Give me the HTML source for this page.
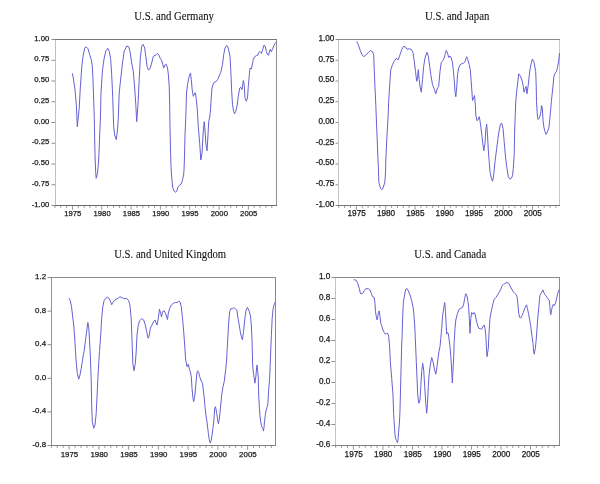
<!DOCTYPE html><html><head><meta charset="utf-8"><title>Correlations</title><style>html,body{margin:0;padding:0;background:#fff;width:600px;height:484px;overflow:hidden}svg{display:block;}.t{font-family:"Liberation Serif","Times New Roman",serif;font-size:11.8px;fill:#111;stroke:#111;stroke-width:0.1px;}.n{font-family:"Liberation Sans",Arial,sans-serif;font-size:7.9px;fill:#1a1a1a;stroke:#1a1a1a;stroke-width:0.25px;}</style></head><body>
<svg width="600" height="484" viewBox="0 0 600 484">
<rect width="600" height="484" fill="#fff"/>
<text class="t" transform="translate(134.30,19.90) scale(0.907,1)" text-anchor="start">U.S. and Germany</text>
<text class="n" transform="translate(49.30,40.50)" text-anchor="end" style="font-size:7.7px">1.00</text>
<text class="n" transform="translate(49.30,61.25)" text-anchor="end" style="font-size:7.7px">0.75</text>
<text class="n" transform="translate(49.30,82.00)" text-anchor="end" style="font-size:7.7px">0.50</text>
<text class="n" transform="translate(49.30,102.75)" text-anchor="end" style="font-size:7.7px">0.25</text>
<text class="n" transform="translate(49.30,123.50)" text-anchor="end" style="font-size:7.7px">0.00</text>
<text class="n" transform="translate(49.30,144.25)" text-anchor="end" style="font-size:7.7px">-0.25</text>
<text class="n" transform="translate(49.30,165.00)" text-anchor="end" style="font-size:7.7px">-0.50</text>
<text class="n" transform="translate(49.30,185.75)" text-anchor="end" style="font-size:7.7px">-0.75</text>
<text class="n" transform="translate(49.30,206.50)" text-anchor="end" style="font-size:7.7px">-1.00</text>
<text class="n" transform="translate(72.79,216.00)" text-anchor="middle" style="font-size:7.7px">1975</text>
<text class="n" transform="translate(102.10,216.00)" text-anchor="middle" style="font-size:7.7px">1980</text>
<text class="n" transform="translate(131.41,216.00)" text-anchor="middle" style="font-size:7.7px">1985</text>
<text class="n" transform="translate(160.72,216.00)" text-anchor="middle" style="font-size:7.7px">1990</text>
<text class="n" transform="translate(190.04,216.00)" text-anchor="middle" style="font-size:7.7px">1995</text>
<text class="n" transform="translate(219.35,216.00)" text-anchor="middle" style="font-size:7.7px">2000</text>
<text class="n" transform="translate(248.66,216.00)" text-anchor="middle" style="font-size:7.7px">2005</text>
<line x1="51.50" y1="39.50" x2="55.50" y2="39.50" stroke="#8c8c8c" stroke-width="1"/>
<line x1="51.50" y1="60.25" x2="55.50" y2="60.25" stroke="#8c8c8c" stroke-width="1"/>
<line x1="51.50" y1="81.00" x2="55.50" y2="81.00" stroke="#8c8c8c" stroke-width="1"/>
<line x1="51.50" y1="101.75" x2="55.50" y2="101.75" stroke="#8c8c8c" stroke-width="1"/>
<line x1="51.50" y1="122.50" x2="55.50" y2="122.50" stroke="#8c8c8c" stroke-width="1"/>
<line x1="51.50" y1="143.25" x2="55.50" y2="143.25" stroke="#8c8c8c" stroke-width="1"/>
<line x1="51.50" y1="164.00" x2="55.50" y2="164.00" stroke="#8c8c8c" stroke-width="1"/>
<line x1="51.50" y1="184.75" x2="55.50" y2="184.75" stroke="#8c8c8c" stroke-width="1"/>
<line x1="51.50" y1="205.50" x2="55.50" y2="205.50" stroke="#8c8c8c" stroke-width="1"/>
<line x1="54.90" y1="205.5" x2="54.90" y2="207.9" stroke="#8c8c8c" stroke-width="0.9"/>
<line x1="60.76" y1="205.5" x2="60.76" y2="207.9" stroke="#8c8c8c" stroke-width="0.9"/>
<line x1="66.62" y1="205.5" x2="66.62" y2="207.9" stroke="#8c8c8c" stroke-width="0.9"/>
<line x1="72.49" y1="205.5" x2="72.49" y2="209.7" stroke="#8c8c8c" stroke-width="0.9"/>
<line x1="78.35" y1="205.5" x2="78.35" y2="207.9" stroke="#8c8c8c" stroke-width="0.9"/>
<line x1="84.21" y1="205.5" x2="84.21" y2="207.9" stroke="#8c8c8c" stroke-width="0.9"/>
<line x1="90.07" y1="205.5" x2="90.07" y2="207.9" stroke="#8c8c8c" stroke-width="0.9"/>
<line x1="95.94" y1="205.5" x2="95.94" y2="207.9" stroke="#8c8c8c" stroke-width="0.9"/>
<line x1="101.80" y1="205.5" x2="101.80" y2="209.7" stroke="#8c8c8c" stroke-width="0.9"/>
<line x1="107.66" y1="205.5" x2="107.66" y2="207.9" stroke="#8c8c8c" stroke-width="0.9"/>
<line x1="113.53" y1="205.5" x2="113.53" y2="207.9" stroke="#8c8c8c" stroke-width="0.9"/>
<line x1="119.39" y1="205.5" x2="119.39" y2="207.9" stroke="#8c8c8c" stroke-width="0.9"/>
<line x1="125.25" y1="205.5" x2="125.25" y2="207.9" stroke="#8c8c8c" stroke-width="0.9"/>
<line x1="131.11" y1="205.5" x2="131.11" y2="209.7" stroke="#8c8c8c" stroke-width="0.9"/>
<line x1="136.97" y1="205.5" x2="136.97" y2="207.9" stroke="#8c8c8c" stroke-width="0.9"/>
<line x1="142.84" y1="205.5" x2="142.84" y2="207.9" stroke="#8c8c8c" stroke-width="0.9"/>
<line x1="148.70" y1="205.5" x2="148.70" y2="207.9" stroke="#8c8c8c" stroke-width="0.9"/>
<line x1="154.56" y1="205.5" x2="154.56" y2="207.9" stroke="#8c8c8c" stroke-width="0.9"/>
<line x1="160.42" y1="205.5" x2="160.42" y2="209.7" stroke="#8c8c8c" stroke-width="0.9"/>
<line x1="166.29" y1="205.5" x2="166.29" y2="207.9" stroke="#8c8c8c" stroke-width="0.9"/>
<line x1="172.15" y1="205.5" x2="172.15" y2="207.9" stroke="#8c8c8c" stroke-width="0.9"/>
<line x1="178.01" y1="205.5" x2="178.01" y2="207.9" stroke="#8c8c8c" stroke-width="0.9"/>
<line x1="183.88" y1="205.5" x2="183.88" y2="207.9" stroke="#8c8c8c" stroke-width="0.9"/>
<line x1="189.74" y1="205.5" x2="189.74" y2="209.7" stroke="#8c8c8c" stroke-width="0.9"/>
<line x1="195.60" y1="205.5" x2="195.60" y2="207.9" stroke="#8c8c8c" stroke-width="0.9"/>
<line x1="201.46" y1="205.5" x2="201.46" y2="207.9" stroke="#8c8c8c" stroke-width="0.9"/>
<line x1="207.32" y1="205.5" x2="207.32" y2="207.9" stroke="#8c8c8c" stroke-width="0.9"/>
<line x1="213.19" y1="205.5" x2="213.19" y2="207.9" stroke="#8c8c8c" stroke-width="0.9"/>
<line x1="219.05" y1="205.5" x2="219.05" y2="209.7" stroke="#8c8c8c" stroke-width="0.9"/>
<line x1="224.91" y1="205.5" x2="224.91" y2="207.9" stroke="#8c8c8c" stroke-width="0.9"/>
<line x1="230.78" y1="205.5" x2="230.78" y2="207.9" stroke="#8c8c8c" stroke-width="0.9"/>
<line x1="236.64" y1="205.5" x2="236.64" y2="207.9" stroke="#8c8c8c" stroke-width="0.9"/>
<line x1="242.50" y1="205.5" x2="242.50" y2="207.9" stroke="#8c8c8c" stroke-width="0.9"/>
<line x1="248.36" y1="205.5" x2="248.36" y2="209.7" stroke="#8c8c8c" stroke-width="0.9"/>
<line x1="254.22" y1="205.5" x2="254.22" y2="207.9" stroke="#8c8c8c" stroke-width="0.9"/>
<line x1="260.09" y1="205.5" x2="260.09" y2="207.9" stroke="#8c8c8c" stroke-width="0.9"/>
<line x1="265.95" y1="205.5" x2="265.95" y2="207.9" stroke="#8c8c8c" stroke-width="0.9"/>
<line x1="271.81" y1="205.5" x2="271.81" y2="207.9" stroke="#8c8c8c" stroke-width="0.9"/>
<rect x="55" y="39" width="1" height="167" fill="#c0c0c0"/>
<rect x="276" y="39" width="1" height="167" fill="#909090"/>
<rect x="55" y="39" width="222" height="1" fill="#777777"/>
<rect x="55" y="205" width="222" height="1" fill="#6a6a6a"/>
<polyline points="72.3,73.3 73.3,78.0 75.0,89.7 76.3,104.7 77.3,126.7 78.3,117.0 79.2,108.0 80.3,88.0 81.7,68.0 83.0,56.3 84.7,48.3 86.0,46.7 88.0,48.8 89.7,54.7 91.3,59.7 92.3,66.3 93.0,79.7 93.7,100.0 94.2,115.0 94.7,140.0 95.2,160.0 95.7,172.0 96.2,178.3 97.5,173.3 98.7,160.0 99.7,135.0 100.5,115.0 101.0,93.0 102.5,69.7 104.2,58.0 105.8,51.0 107.7,48.3 109.3,51.3 110.7,59.7 111.7,74.7 112.7,96.3 113.3,115.0 113.7,126.7 114.7,135.0 116.3,139.7 117.5,130.0 118.3,118.3 119.2,93.0 120.8,78.0 122.5,63.0 124.2,51.3 126.7,46.0 128.7,46.7 130.0,51.3 131.7,63.0 133.3,71.3 134.7,88.0 135.8,104.7 136.7,121.7 138.0,104.7 139.2,79.7 140.3,58.0 141.7,46.3 143.0,44.3 144.7,48.0 145.8,56.3 147.0,66.3 148.3,70.0 150.0,68.8 151.7,63.0 153.3,56.3 155.0,55.5 156.3,54.7 157.5,53.3 158.7,54.7 160.0,58.0 161.3,59.7 162.5,63.0 163.7,68.0 165.0,65.0 166.3,64.3 167.5,68.0 168.3,73.8 169.2,86.0 169.7,104.7 170.0,126.7 170.4,145.0 170.8,160.0 171.2,170.7 172.0,180.7 172.8,188.1 174.0,191.0 175.7,192.2 176.9,191.0 177.8,187.3 179.4,185.2 181.1,184.0 182.3,180.7 183.6,174.9 184.0,170.0 184.4,160.0 185.0,135.0 185.8,116.7 186.5,93.0 187.5,84.7 189.2,76.3 190.5,73.0 191.3,79.7 192.2,89.7 193.3,96.3 194.7,93.0 195.5,93.0 196.3,99.7 197.2,108.0 198.3,126.7 199.7,143.3 200.8,160.0 202.0,153.3 203.0,135.0 204.2,121.7 205.0,130.0 205.8,143.3 207.0,150.8 208.0,135.0 208.7,121.7 209.7,117.0 210.5,110.0 211.0,101.3 212.0,88.0 213.7,82.7 215.8,81.7 217.5,79.7 219.2,76.0 220.8,72.2 222.5,64.7 223.7,54.7 225.0,48.0 226.7,45.5 228.3,48.0 230.0,56.3 230.8,71.3 231.7,91.3 232.5,104.7 233.7,111.3 234.5,113.8 235.8,111.3 237.0,106.3 238.3,96.3 239.7,88.0 240.8,87.2 242.0,89.7 243.3,80.5 244.2,84.7 245.0,98.0 246.3,101.3 247.5,98.0 248.3,86.3 249.2,76.3 250.0,68.0 251.3,69.0 252.0,66.0 252.7,62.7 253.3,59.3 254.7,56.7 256.3,55.7 257.7,55.3 258.7,52.7 260.0,51.5 261.5,53.5 262.7,49.3 264.1,45.0 265.3,46.7 266.3,51.3 267.3,54.0 268.5,55.3 269.3,52.0 270.3,49.3 271.3,51.7 272.7,48.7 274.0,45.3 275.3,43.3 276.3,42.0" fill="none" stroke="#6661d2" stroke-width="1.0" stroke-linejoin="round"/>
<text class="t" transform="translate(425.10,19.90) scale(0.907,1)" text-anchor="start">U.S. and Japan</text>
<text class="n" transform="translate(334.40,40.80)" text-anchor="end" style="font-size:8.2px">1.00</text>
<text class="n" transform="translate(334.40,61.55)" text-anchor="end" style="font-size:8.2px">0.75</text>
<text class="n" transform="translate(334.40,82.30)" text-anchor="end" style="font-size:8.2px">0.50</text>
<text class="n" transform="translate(334.40,103.05)" text-anchor="end" style="font-size:8.2px">0.25</text>
<text class="n" transform="translate(334.40,123.80)" text-anchor="end" style="font-size:8.2px">0.00</text>
<text class="n" transform="translate(334.40,144.55)" text-anchor="end" style="font-size:8.2px">-0.25</text>
<text class="n" transform="translate(334.40,165.30)" text-anchor="end" style="font-size:8.2px">-0.50</text>
<text class="n" transform="translate(334.40,186.05)" text-anchor="end" style="font-size:8.2px">-0.75</text>
<text class="n" transform="translate(334.40,206.80)" text-anchor="end" style="font-size:8.2px">-1.00</text>
<text class="n" transform="translate(356.66,216.20)" text-anchor="middle" style="font-size:8.2px">1975</text>
<text class="n" transform="translate(386.01,216.20)" text-anchor="middle" style="font-size:8.2px">1980</text>
<text class="n" transform="translate(415.36,216.20)" text-anchor="middle" style="font-size:8.2px">1985</text>
<text class="n" transform="translate(444.71,216.20)" text-anchor="middle" style="font-size:8.2px">1990</text>
<text class="n" transform="translate(474.06,216.20)" text-anchor="middle" style="font-size:8.2px">1995</text>
<text class="n" transform="translate(503.41,216.20)" text-anchor="middle" style="font-size:8.2px">2000</text>
<text class="n" transform="translate(532.76,216.20)" text-anchor="middle" style="font-size:8.2px">2005</text>
<line x1="335.50" y1="39.50" x2="338.50" y2="39.50" stroke="#8c8c8c" stroke-width="1"/>
<line x1="335.50" y1="60.25" x2="338.50" y2="60.25" stroke="#8c8c8c" stroke-width="1"/>
<line x1="335.50" y1="81.00" x2="338.50" y2="81.00" stroke="#8c8c8c" stroke-width="1"/>
<line x1="335.50" y1="101.75" x2="338.50" y2="101.75" stroke="#8c8c8c" stroke-width="1"/>
<line x1="335.50" y1="122.50" x2="338.50" y2="122.50" stroke="#8c8c8c" stroke-width="1"/>
<line x1="335.50" y1="143.25" x2="338.50" y2="143.25" stroke="#8c8c8c" stroke-width="1"/>
<line x1="335.50" y1="164.00" x2="338.50" y2="164.00" stroke="#8c8c8c" stroke-width="1"/>
<line x1="335.50" y1="184.75" x2="338.50" y2="184.75" stroke="#8c8c8c" stroke-width="1"/>
<line x1="335.50" y1="205.50" x2="338.50" y2="205.50" stroke="#8c8c8c" stroke-width="1"/>
<line x1="338.75" y1="205.5" x2="338.75" y2="207.9" stroke="#8c8c8c" stroke-width="0.9"/>
<line x1="344.62" y1="205.5" x2="344.62" y2="207.9" stroke="#8c8c8c" stroke-width="0.9"/>
<line x1="350.49" y1="205.5" x2="350.49" y2="207.9" stroke="#8c8c8c" stroke-width="0.9"/>
<line x1="356.36" y1="205.5" x2="356.36" y2="209.7" stroke="#8c8c8c" stroke-width="0.9"/>
<line x1="362.23" y1="205.5" x2="362.23" y2="207.9" stroke="#8c8c8c" stroke-width="0.9"/>
<line x1="368.10" y1="205.5" x2="368.10" y2="207.9" stroke="#8c8c8c" stroke-width="0.9"/>
<line x1="373.97" y1="205.5" x2="373.97" y2="207.9" stroke="#8c8c8c" stroke-width="0.9"/>
<line x1="379.84" y1="205.5" x2="379.84" y2="207.9" stroke="#8c8c8c" stroke-width="0.9"/>
<line x1="385.71" y1="205.5" x2="385.71" y2="209.7" stroke="#8c8c8c" stroke-width="0.9"/>
<line x1="391.58" y1="205.5" x2="391.58" y2="207.9" stroke="#8c8c8c" stroke-width="0.9"/>
<line x1="397.45" y1="205.5" x2="397.45" y2="207.9" stroke="#8c8c8c" stroke-width="0.9"/>
<line x1="403.32" y1="205.5" x2="403.32" y2="207.9" stroke="#8c8c8c" stroke-width="0.9"/>
<line x1="409.19" y1="205.5" x2="409.19" y2="207.9" stroke="#8c8c8c" stroke-width="0.9"/>
<line x1="415.06" y1="205.5" x2="415.06" y2="209.7" stroke="#8c8c8c" stroke-width="0.9"/>
<line x1="420.93" y1="205.5" x2="420.93" y2="207.9" stroke="#8c8c8c" stroke-width="0.9"/>
<line x1="426.80" y1="205.5" x2="426.80" y2="207.9" stroke="#8c8c8c" stroke-width="0.9"/>
<line x1="432.67" y1="205.5" x2="432.67" y2="207.9" stroke="#8c8c8c" stroke-width="0.9"/>
<line x1="438.54" y1="205.5" x2="438.54" y2="207.9" stroke="#8c8c8c" stroke-width="0.9"/>
<line x1="444.41" y1="205.5" x2="444.41" y2="209.7" stroke="#8c8c8c" stroke-width="0.9"/>
<line x1="450.28" y1="205.5" x2="450.28" y2="207.9" stroke="#8c8c8c" stroke-width="0.9"/>
<line x1="456.15" y1="205.5" x2="456.15" y2="207.9" stroke="#8c8c8c" stroke-width="0.9"/>
<line x1="462.02" y1="205.5" x2="462.02" y2="207.9" stroke="#8c8c8c" stroke-width="0.9"/>
<line x1="467.89" y1="205.5" x2="467.89" y2="207.9" stroke="#8c8c8c" stroke-width="0.9"/>
<line x1="473.76" y1="205.5" x2="473.76" y2="209.7" stroke="#8c8c8c" stroke-width="0.9"/>
<line x1="479.63" y1="205.5" x2="479.63" y2="207.9" stroke="#8c8c8c" stroke-width="0.9"/>
<line x1="485.50" y1="205.5" x2="485.50" y2="207.9" stroke="#8c8c8c" stroke-width="0.9"/>
<line x1="491.37" y1="205.5" x2="491.37" y2="207.9" stroke="#8c8c8c" stroke-width="0.9"/>
<line x1="497.24" y1="205.5" x2="497.24" y2="207.9" stroke="#8c8c8c" stroke-width="0.9"/>
<line x1="503.11" y1="205.5" x2="503.11" y2="209.7" stroke="#8c8c8c" stroke-width="0.9"/>
<line x1="508.98" y1="205.5" x2="508.98" y2="207.9" stroke="#8c8c8c" stroke-width="0.9"/>
<line x1="514.85" y1="205.5" x2="514.85" y2="207.9" stroke="#8c8c8c" stroke-width="0.9"/>
<line x1="520.72" y1="205.5" x2="520.72" y2="207.9" stroke="#8c8c8c" stroke-width="0.9"/>
<line x1="526.59" y1="205.5" x2="526.59" y2="207.9" stroke="#8c8c8c" stroke-width="0.9"/>
<line x1="532.46" y1="205.5" x2="532.46" y2="209.7" stroke="#8c8c8c" stroke-width="0.9"/>
<line x1="538.33" y1="205.5" x2="538.33" y2="207.9" stroke="#8c8c8c" stroke-width="0.9"/>
<line x1="544.20" y1="205.5" x2="544.20" y2="207.9" stroke="#8c8c8c" stroke-width="0.9"/>
<line x1="550.07" y1="205.5" x2="550.07" y2="207.9" stroke="#8c8c8c" stroke-width="0.9"/>
<line x1="555.94" y1="205.5" x2="555.94" y2="207.9" stroke="#8c8c8c" stroke-width="0.9"/>
<rect x="338" y="39" width="1" height="167" fill="#c4c4c4"/>
<rect x="559" y="39" width="1" height="167" fill="#c8c8c8"/>
<rect x="338" y="39" width="222" height="1" fill="#8a8a8a"/>
<rect x="338" y="205" width="222" height="1" fill="#777777"/>
<polyline points="356.7,41.3 358.3,44.7 360.3,50.5 362.0,54.7 363.7,56.7 365.8,55.0 368.3,52.7 370.3,50.5 372.5,51.7 373.7,54.7 374.3,71.3 375.0,88.0 375.8,104.7 376.3,118.0 377.0,135.0 378.0,160.0 378.5,170.0 378.6,176.5 378.9,182.5 379.8,185.5 380.5,188.5 381.8,189.8 383.0,188.0 384.0,185.0 384.8,182.0 385.2,177.5 385.6,170.0 385.8,160.0 387.0,135.0 388.0,118.3 388.7,101.3 389.7,84.7 390.8,69.7 392.5,64.7 394.2,61.3 396.3,58.3 398.3,59.7 400.0,54.7 401.7,49.7 403.7,46.3 405.3,46.7 407.0,49.3 409.2,48.8 411.3,49.3 413.0,52.7 414.3,61.3 415.5,71.3 416.7,81.3 417.5,78.0 418.3,69.7 419.2,79.7 420.0,86.3 421.3,92.2 422.5,79.7 423.7,66.3 425.0,58.0 427.0,52.2 428.3,56.3 429.7,66.3 430.8,74.7 432.5,84.7 434.2,88.8 435.8,93.8 437.5,88.0 438.7,86.3 440.0,71.3 441.3,62.2 443.0,60.5 444.2,58.0 445.0,54.7 446.2,50.5 447.5,53.0 448.7,57.5 450.0,56.0 451.3,58.0 452.5,63.0 453.3,69.7 454.2,79.7 455.0,91.3 455.8,96.7 456.7,88.0 457.5,74.7 458.7,68.0 460.0,64.7 461.7,63.8 463.3,63.3 465.0,61.7 465.8,58.8 466.7,56.7 467.8,59.7 469.2,64.7 470.3,69.7 471.2,81.3 472.0,93.0 472.5,100.5 473.7,98.0 474.5,95.5 475.3,104.7 475.8,115.0 477.0,120.8 478.3,119.2 479.2,116.7 480.0,120.8 480.8,126.7 482.0,136.7 483.0,145.0 483.8,150.8 485.0,143.3 485.8,130.0 486.7,124.2 487.5,135.0 488.3,150.0 489.2,161.7 490.0,171.7 491.3,178.3 492.5,181.3 493.7,175.0 495.0,161.7 496.7,148.3 498.0,138.3 499.2,130.0 500.5,124.2 501.7,123.0 503.0,128.3 504.2,141.7 505.3,155.0 506.7,166.7 508.3,176.7 510.0,179.2 511.3,178.3 512.5,175.8 513.3,168.3 514.2,155.0 514.7,130.0 515.3,113.3 515.8,101.3 516.7,91.3 517.7,83.0 518.7,73.8 520.0,75.7 521.7,79.0 523.0,84.8 524.1,92.2 525.3,88.1 526.1,86.4 526.9,93.9 528.3,84.8 529.1,76.5 530.2,68.3 531.6,61.7 532.4,59.0 534.0,62.0 535.7,71.6 536.2,84.8 536.5,101.3 537.4,116.2 538.2,119.5 539.8,117.0 541.0,111.2 541.5,105.5 542.3,107.9 543.1,121.2 544.0,127.8 545.1,131.9 546.1,134.4 547.3,131.9 548.9,127.8 550.1,116.2 551.4,101.3 553.1,84.8 553.9,76.5 555.0,73.2 556.0,72.4 556.7,70.7 557.7,66.6 558.8,60.0 559.5,53.0" fill="none" stroke="#6661d2" stroke-width="1.0" stroke-linejoin="round"/>
<text class="t" transform="translate(114.20,257.90) scale(0.907,1)" text-anchor="start">U.S. and United Kingdom</text>
<text class="n" transform="translate(46.10,279.00)" text-anchor="end" style="font-size:7.9px">1.2</text>
<text class="n" transform="translate(46.10,312.60)" text-anchor="end" style="font-size:7.9px">0.8</text>
<text class="n" transform="translate(46.10,346.20)" text-anchor="end" style="font-size:7.9px">0.4</text>
<text class="n" transform="translate(46.10,379.80)" text-anchor="end" style="font-size:7.9px">0.0</text>
<text class="n" transform="translate(46.10,413.40)" text-anchor="end" style="font-size:7.9px">-0.4</text>
<text class="n" transform="translate(46.10,447.00)" text-anchor="end" style="font-size:7.9px">-0.8</text>
<text class="n" transform="translate(69.44,456.80)" text-anchor="middle" style="font-size:7.9px">1975</text>
<text class="n" transform="translate(99.18,456.80)" text-anchor="middle" style="font-size:7.9px">1980</text>
<text class="n" transform="translate(128.92,456.80)" text-anchor="middle" style="font-size:7.9px">1985</text>
<text class="n" transform="translate(158.66,456.80)" text-anchor="middle" style="font-size:7.9px">1990</text>
<text class="n" transform="translate(188.40,456.80)" text-anchor="middle" style="font-size:7.9px">1995</text>
<text class="n" transform="translate(218.14,456.80)" text-anchor="middle" style="font-size:7.9px">2000</text>
<text class="n" transform="translate(247.88,456.80)" text-anchor="middle" style="font-size:7.9px">2005</text>
<line x1="47.50" y1="277.50" x2="51.50" y2="277.50" stroke="#8c8c8c" stroke-width="1"/>
<line x1="47.50" y1="311.10" x2="51.50" y2="311.10" stroke="#8c8c8c" stroke-width="1"/>
<line x1="47.50" y1="344.70" x2="51.50" y2="344.70" stroke="#8c8c8c" stroke-width="1"/>
<line x1="47.50" y1="378.30" x2="51.50" y2="378.30" stroke="#8c8c8c" stroke-width="1"/>
<line x1="47.50" y1="411.90" x2="51.50" y2="411.90" stroke="#8c8c8c" stroke-width="1"/>
<line x1="47.50" y1="445.50" x2="51.50" y2="445.50" stroke="#8c8c8c" stroke-width="1"/>
<line x1="51.30" y1="445.5" x2="51.30" y2="447.9" stroke="#8c8c8c" stroke-width="0.9"/>
<line x1="57.25" y1="445.5" x2="57.25" y2="447.9" stroke="#8c8c8c" stroke-width="0.9"/>
<line x1="63.20" y1="445.5" x2="63.20" y2="447.9" stroke="#8c8c8c" stroke-width="0.9"/>
<line x1="69.14" y1="445.5" x2="69.14" y2="449.7" stroke="#8c8c8c" stroke-width="0.9"/>
<line x1="75.09" y1="445.5" x2="75.09" y2="447.9" stroke="#8c8c8c" stroke-width="0.9"/>
<line x1="81.04" y1="445.5" x2="81.04" y2="447.9" stroke="#8c8c8c" stroke-width="0.9"/>
<line x1="86.99" y1="445.5" x2="86.99" y2="447.9" stroke="#8c8c8c" stroke-width="0.9"/>
<line x1="92.94" y1="445.5" x2="92.94" y2="447.9" stroke="#8c8c8c" stroke-width="0.9"/>
<line x1="98.88" y1="445.5" x2="98.88" y2="449.7" stroke="#8c8c8c" stroke-width="0.9"/>
<line x1="104.83" y1="445.5" x2="104.83" y2="447.9" stroke="#8c8c8c" stroke-width="0.9"/>
<line x1="110.78" y1="445.5" x2="110.78" y2="447.9" stroke="#8c8c8c" stroke-width="0.9"/>
<line x1="116.73" y1="445.5" x2="116.73" y2="447.9" stroke="#8c8c8c" stroke-width="0.9"/>
<line x1="122.68" y1="445.5" x2="122.68" y2="447.9" stroke="#8c8c8c" stroke-width="0.9"/>
<line x1="128.62" y1="445.5" x2="128.62" y2="449.7" stroke="#8c8c8c" stroke-width="0.9"/>
<line x1="134.57" y1="445.5" x2="134.57" y2="447.9" stroke="#8c8c8c" stroke-width="0.9"/>
<line x1="140.52" y1="445.5" x2="140.52" y2="447.9" stroke="#8c8c8c" stroke-width="0.9"/>
<line x1="146.47" y1="445.5" x2="146.47" y2="447.9" stroke="#8c8c8c" stroke-width="0.9"/>
<line x1="152.42" y1="445.5" x2="152.42" y2="447.9" stroke="#8c8c8c" stroke-width="0.9"/>
<line x1="158.36" y1="445.5" x2="158.36" y2="449.7" stroke="#8c8c8c" stroke-width="0.9"/>
<line x1="164.31" y1="445.5" x2="164.31" y2="447.9" stroke="#8c8c8c" stroke-width="0.9"/>
<line x1="170.26" y1="445.5" x2="170.26" y2="447.9" stroke="#8c8c8c" stroke-width="0.9"/>
<line x1="176.21" y1="445.5" x2="176.21" y2="447.9" stroke="#8c8c8c" stroke-width="0.9"/>
<line x1="182.16" y1="445.5" x2="182.16" y2="447.9" stroke="#8c8c8c" stroke-width="0.9"/>
<line x1="188.10" y1="445.5" x2="188.10" y2="449.7" stroke="#8c8c8c" stroke-width="0.9"/>
<line x1="194.05" y1="445.5" x2="194.05" y2="447.9" stroke="#8c8c8c" stroke-width="0.9"/>
<line x1="200.00" y1="445.5" x2="200.00" y2="447.9" stroke="#8c8c8c" stroke-width="0.9"/>
<line x1="205.95" y1="445.5" x2="205.95" y2="447.9" stroke="#8c8c8c" stroke-width="0.9"/>
<line x1="211.90" y1="445.5" x2="211.90" y2="447.9" stroke="#8c8c8c" stroke-width="0.9"/>
<line x1="217.84" y1="445.5" x2="217.84" y2="449.7" stroke="#8c8c8c" stroke-width="0.9"/>
<line x1="223.79" y1="445.5" x2="223.79" y2="447.9" stroke="#8c8c8c" stroke-width="0.9"/>
<line x1="229.74" y1="445.5" x2="229.74" y2="447.9" stroke="#8c8c8c" stroke-width="0.9"/>
<line x1="235.69" y1="445.5" x2="235.69" y2="447.9" stroke="#8c8c8c" stroke-width="0.9"/>
<line x1="241.64" y1="445.5" x2="241.64" y2="447.9" stroke="#8c8c8c" stroke-width="0.9"/>
<line x1="247.58" y1="445.5" x2="247.58" y2="449.7" stroke="#8c8c8c" stroke-width="0.9"/>
<line x1="253.53" y1="445.5" x2="253.53" y2="447.9" stroke="#8c8c8c" stroke-width="0.9"/>
<line x1="259.48" y1="445.5" x2="259.48" y2="447.9" stroke="#8c8c8c" stroke-width="0.9"/>
<line x1="265.43" y1="445.5" x2="265.43" y2="447.9" stroke="#8c8c8c" stroke-width="0.9"/>
<line x1="271.38" y1="445.5" x2="271.38" y2="447.9" stroke="#8c8c8c" stroke-width="0.9"/>
<rect x="51" y="277" width="1" height="169" fill="#929292"/>
<rect x="275" y="277" width="1" height="169" fill="#8a8a8a"/>
<rect x="51" y="277" width="225" height="1" fill="#8c8c8c"/>
<rect x="51" y="445" width="225" height="1" fill="#808080"/>
<polyline points="69.0,298.3 70.3,300.8 71.5,306.7 72.5,315.0 73.7,325.0 74.5,335.0 75.3,348.3 76.2,362.0 77.3,373.3 78.7,379.2 80.0,375.0 81.2,368.3 82.3,361.7 83.3,355.0 84.0,351.7 85.3,341.7 86.7,331.7 87.8,322.5 88.7,326.7 89.5,340.0 90.3,355.0 91.2,380.0 91.7,405.0 92.3,421.7 93.7,428.3 95.0,425.0 96.2,413.3 97.0,396.7 97.8,380.0 98.7,363.3 99.5,351.7 100.7,335.0 101.7,318.3 102.8,306.7 104.0,300.8 105.7,298.3 107.3,297.2 109.0,298.3 110.3,300.8 111.7,304.7 112.8,302.5 114.5,300.3 116.2,299.2 118.3,298.0 120.0,296.7 121.7,297.5 123.3,298.3 125.0,298.7 126.7,298.3 128.3,300.3 129.5,303.3 130.3,308.3 131.2,318.3 131.7,331.7 132.3,348.3 132.8,363.3 134.0,370.8 135.3,363.3 136.2,351.7 137.0,335.0 138.0,326.7 139.5,320.8 141.7,318.7 143.7,320.0 145.3,325.0 146.7,331.7 148.0,338.2 149.0,336.7 150.3,328.3 152.0,325.0 153.7,321.3 155.0,320.0 155.8,322.5 157.0,325.0 158.3,318.3 159.5,309.2 160.7,313.5 161.5,317.0 162.5,311.7 164.2,310.8 165.5,313.3 167.5,319.5 168.3,313.3 169.7,308.3 171.3,305.0 173.3,303.3 175.3,302.5 177.0,302.5 178.7,301.3 180.0,302.0 181.3,306.7 182.5,318.3 183.7,331.7 184.7,345.0 185.5,358.0 186.0,361.7 187.0,366.7 188.3,364.2 189.2,368.3 190.3,371.7 191.3,376.7 192.0,388.3 193.0,398.3 193.7,401.7 194.7,396.7 195.8,385.0 196.7,375.0 197.5,370.8 198.7,372.5 199.7,376.7 200.8,380.0 202.5,383.3 203.3,390.0 204.3,398.3 205.0,406.7 205.8,414.0 206.9,421.2 207.6,427.1 208.4,433.8 209.3,439.8 210.3,443.1 211.2,440.5 212.1,434.6 212.9,428.6 213.8,421.2 214.7,408.3 215.5,406.7 216.7,413.3 218.0,422.0 218.4,423.8 219.2,419.7 219.9,413.7 220.7,405.0 221.7,395.0 223.0,386.7 224.2,381.7 225.0,375.0 225.8,368.3 226.7,360.0 227.0,351.7 228.0,335.0 228.7,321.7 229.7,311.7 230.8,308.7 232.5,308.7 234.2,307.5 235.8,309.2 237.0,310.8 238.0,318.3 239.2,325.0 240.3,331.7 241.3,336.7 242.4,339.8 243.6,331.3 244.9,318.1 246.0,310.5 247.4,307.4 249.0,310.7 250.5,316.0 251.3,325.0 252.0,340.0 252.4,355.0 252.6,364.6 253.4,372.9 254.3,378.7 254.9,383.2 255.9,376.2 256.6,367.9 257.0,365.0 257.6,370.4 258.2,376.2 258.4,382.8 258.6,391.1 258.8,398.0 259.1,401.0 259.4,408.4 260.0,415.8 260.7,421.6 261.7,426.6 262.9,428.6 263.5,431.1 264.0,427.4 264.6,420.8 265.4,414.2 266.2,410.0 267.3,406.7 267.9,403.4 268.3,396.0 268.7,389.4 269.6,378.7 270.1,366.3 270.5,356.1 271.4,334.6 272.2,318.1 273.0,309.8 273.8,305.7 274.7,303.2 275.5,301.6" fill="none" stroke="#6661d2" stroke-width="1.0" stroke-linejoin="round"/>
<text class="t" transform="translate(414.30,257.80) scale(0.907,1)" text-anchor="start">U.S. and Canada</text>
<text class="n" transform="translate(330.40,279.40)" text-anchor="end" style="font-size:8.2px">1.0</text>
<text class="n" transform="translate(330.40,300.40)" text-anchor="end" style="font-size:8.2px">0.8</text>
<text class="n" transform="translate(330.40,321.40)" text-anchor="end" style="font-size:8.2px">0.6</text>
<text class="n" transform="translate(330.40,342.40)" text-anchor="end" style="font-size:8.2px">0.4</text>
<text class="n" transform="translate(330.40,363.40)" text-anchor="end" style="font-size:8.2px">0.2</text>
<text class="n" transform="translate(330.40,384.40)" text-anchor="end" style="font-size:8.2px">0.0</text>
<text class="n" transform="translate(330.40,405.40)" text-anchor="end" style="font-size:8.2px">-0.2</text>
<text class="n" transform="translate(330.40,426.40)" text-anchor="end" style="font-size:8.2px">-0.4</text>
<text class="n" transform="translate(330.40,447.40)" text-anchor="end" style="font-size:8.2px">-0.6</text>
<text class="n" transform="translate(353.71,457.40)" text-anchor="middle" style="font-size:8.2px">1975</text>
<text class="n" transform="translate(383.22,457.40)" text-anchor="middle" style="font-size:8.2px">1980</text>
<text class="n" transform="translate(412.74,457.40)" text-anchor="middle" style="font-size:8.2px">1985</text>
<text class="n" transform="translate(442.25,457.40)" text-anchor="middle" style="font-size:8.2px">1990</text>
<text class="n" transform="translate(471.77,457.40)" text-anchor="middle" style="font-size:8.2px">1995</text>
<text class="n" transform="translate(501.28,457.40)" text-anchor="middle" style="font-size:8.2px">2000</text>
<text class="n" transform="translate(530.80,457.40)" text-anchor="middle" style="font-size:8.2px">2005</text>
<line x1="331.50" y1="277.50" x2="335.50" y2="277.50" stroke="#8c8c8c" stroke-width="1"/>
<line x1="331.50" y1="298.50" x2="335.50" y2="298.50" stroke="#8c8c8c" stroke-width="1"/>
<line x1="331.50" y1="319.50" x2="335.50" y2="319.50" stroke="#8c8c8c" stroke-width="1"/>
<line x1="331.50" y1="340.50" x2="335.50" y2="340.50" stroke="#8c8c8c" stroke-width="1"/>
<line x1="331.50" y1="361.50" x2="335.50" y2="361.50" stroke="#8c8c8c" stroke-width="1"/>
<line x1="331.50" y1="382.50" x2="335.50" y2="382.50" stroke="#8c8c8c" stroke-width="1"/>
<line x1="331.50" y1="403.50" x2="335.50" y2="403.50" stroke="#8c8c8c" stroke-width="1"/>
<line x1="331.50" y1="424.50" x2="335.50" y2="424.50" stroke="#8c8c8c" stroke-width="1"/>
<line x1="331.50" y1="445.50" x2="335.50" y2="445.50" stroke="#8c8c8c" stroke-width="1"/>
<line x1="335.70" y1="445.5" x2="335.70" y2="447.9" stroke="#8c8c8c" stroke-width="0.9"/>
<line x1="341.60" y1="445.5" x2="341.60" y2="447.9" stroke="#8c8c8c" stroke-width="0.9"/>
<line x1="347.51" y1="445.5" x2="347.51" y2="447.9" stroke="#8c8c8c" stroke-width="0.9"/>
<line x1="353.41" y1="445.5" x2="353.41" y2="449.7" stroke="#8c8c8c" stroke-width="0.9"/>
<line x1="359.31" y1="445.5" x2="359.31" y2="447.9" stroke="#8c8c8c" stroke-width="0.9"/>
<line x1="365.21" y1="445.5" x2="365.21" y2="447.9" stroke="#8c8c8c" stroke-width="0.9"/>
<line x1="371.12" y1="445.5" x2="371.12" y2="447.9" stroke="#8c8c8c" stroke-width="0.9"/>
<line x1="377.02" y1="445.5" x2="377.02" y2="447.9" stroke="#8c8c8c" stroke-width="0.9"/>
<line x1="382.92" y1="445.5" x2="382.92" y2="449.7" stroke="#8c8c8c" stroke-width="0.9"/>
<line x1="388.83" y1="445.5" x2="388.83" y2="447.9" stroke="#8c8c8c" stroke-width="0.9"/>
<line x1="394.73" y1="445.5" x2="394.73" y2="447.9" stroke="#8c8c8c" stroke-width="0.9"/>
<line x1="400.63" y1="445.5" x2="400.63" y2="447.9" stroke="#8c8c8c" stroke-width="0.9"/>
<line x1="406.54" y1="445.5" x2="406.54" y2="447.9" stroke="#8c8c8c" stroke-width="0.9"/>
<line x1="412.44" y1="445.5" x2="412.44" y2="449.7" stroke="#8c8c8c" stroke-width="0.9"/>
<line x1="418.34" y1="445.5" x2="418.34" y2="447.9" stroke="#8c8c8c" stroke-width="0.9"/>
<line x1="424.25" y1="445.5" x2="424.25" y2="447.9" stroke="#8c8c8c" stroke-width="0.9"/>
<line x1="430.15" y1="445.5" x2="430.15" y2="447.9" stroke="#8c8c8c" stroke-width="0.9"/>
<line x1="436.05" y1="445.5" x2="436.05" y2="447.9" stroke="#8c8c8c" stroke-width="0.9"/>
<line x1="441.95" y1="445.5" x2="441.95" y2="449.7" stroke="#8c8c8c" stroke-width="0.9"/>
<line x1="447.86" y1="445.5" x2="447.86" y2="447.9" stroke="#8c8c8c" stroke-width="0.9"/>
<line x1="453.76" y1="445.5" x2="453.76" y2="447.9" stroke="#8c8c8c" stroke-width="0.9"/>
<line x1="459.66" y1="445.5" x2="459.66" y2="447.9" stroke="#8c8c8c" stroke-width="0.9"/>
<line x1="465.57" y1="445.5" x2="465.57" y2="447.9" stroke="#8c8c8c" stroke-width="0.9"/>
<line x1="471.47" y1="445.5" x2="471.47" y2="449.7" stroke="#8c8c8c" stroke-width="0.9"/>
<line x1="477.37" y1="445.5" x2="477.37" y2="447.9" stroke="#8c8c8c" stroke-width="0.9"/>
<line x1="483.27" y1="445.5" x2="483.27" y2="447.9" stroke="#8c8c8c" stroke-width="0.9"/>
<line x1="489.18" y1="445.5" x2="489.18" y2="447.9" stroke="#8c8c8c" stroke-width="0.9"/>
<line x1="495.08" y1="445.5" x2="495.08" y2="447.9" stroke="#8c8c8c" stroke-width="0.9"/>
<line x1="500.98" y1="445.5" x2="500.98" y2="449.7" stroke="#8c8c8c" stroke-width="0.9"/>
<line x1="506.89" y1="445.5" x2="506.89" y2="447.9" stroke="#8c8c8c" stroke-width="0.9"/>
<line x1="512.79" y1="445.5" x2="512.79" y2="447.9" stroke="#8c8c8c" stroke-width="0.9"/>
<line x1="518.69" y1="445.5" x2="518.69" y2="447.9" stroke="#8c8c8c" stroke-width="0.9"/>
<line x1="524.60" y1="445.5" x2="524.60" y2="447.9" stroke="#8c8c8c" stroke-width="0.9"/>
<line x1="530.50" y1="445.5" x2="530.50" y2="449.7" stroke="#8c8c8c" stroke-width="0.9"/>
<line x1="536.40" y1="445.5" x2="536.40" y2="447.9" stroke="#8c8c8c" stroke-width="0.9"/>
<line x1="542.30" y1="445.5" x2="542.30" y2="447.9" stroke="#8c8c8c" stroke-width="0.9"/>
<line x1="548.21" y1="445.5" x2="548.21" y2="447.9" stroke="#8c8c8c" stroke-width="0.9"/>
<line x1="554.11" y1="445.5" x2="554.11" y2="447.9" stroke="#8c8c8c" stroke-width="0.9"/>
<rect x="335" y="277" width="1" height="169" fill="#c4c4c4"/>
<rect x="559" y="277" width="1" height="169" fill="#8e8e8e"/>
<rect x="335" y="277" width="225" height="1" fill="#888888"/>
<rect x="335" y="445" width="225" height="1" fill="#808080"/>
<polyline points="353.7,279.7 355.8,280.0 357.5,282.5 359.2,288.3 360.5,293.7 362.5,293.7 364.2,290.8 365.8,288.7 368.3,288.7 370.0,290.0 371.3,293.3 372.5,296.7 374.2,297.5 375.0,303.3 375.5,311.7 376.3,316.7 377.2,320.0 378.3,313.3 379.2,310.8 380.0,316.7 380.8,323.3 382.0,326.7 383.0,330.0 384.2,332.5 385.3,334.2 386.7,333.3 388.0,333.7 388.7,336.7 389.3,343.3 389.8,350.0 390.3,361.7 391.7,378.3 393.0,395.0 393.6,413.3 394.0,419.9 394.5,428.1 395.0,434.8 395.7,438.9 396.5,440.5 397.4,442.6 398.0,439.7 398.6,432.3 399.2,425.7 399.7,417.4 400.0,410.0 400.4,395.0 400.8,378.0 401.3,360.0 401.7,345.0 402.0,338.3 402.7,316.7 403.3,303.3 404.5,295.0 405.8,289.2 406.7,288.3 408.3,290.8 410.0,295.0 411.7,300.8 413.0,306.7 413.8,313.3 414.7,325.0 415.3,338.3 415.8,350.0 416.3,361.7 417.0,378.3 417.7,395.0 418.8,403.3 420.0,400.0 420.8,386.7 421.7,371.7 422.7,363.3 423.7,370.0 424.7,386.7 425.8,403.3 426.7,413.3 427.5,403.3 428.3,386.7 429.2,373.3 430.3,365.0 431.7,357.5 433.0,361.7 434.2,368.3 435.8,374.2 437.0,366.7 438.0,358.3 439.2,350.0 440.0,346.7 440.8,338.3 441.7,328.3 442.5,316.7 443.7,308.3 444.7,302.5 445.5,311.7 446.2,325.0 446.7,334.2 447.5,332.5 448.3,333.3 449.2,340.0 450.0,346.7 450.8,356.7 451.7,370.0 452.3,383.0 453.0,370.0 453.7,356.7 454.2,341.7 455.0,328.3 455.8,320.0 457.5,313.3 459.2,309.2 460.8,308.3 462.5,307.5 463.7,304.2 464.7,298.3 465.8,293.7 467.0,295.8 468.0,301.7 468.7,308.3 469.3,318.3 470.0,333.3 470.8,318.3 471.7,312.5 472.8,314.2 474.2,312.5 475.3,315.0 476.3,320.0 477.5,325.0 478.7,328.3 480.3,328.7 481.7,329.2 483.0,326.7 484.2,325.0 485.0,328.3 485.8,335.0 486.3,345.0 487.0,356.7 488.3,348.3 489.2,330.0 490.0,318.3 490.8,313.3 492.0,308.3 493.0,303.3 494.2,299.2 495.8,297.5 497.5,295.0 499.2,292.5 500.8,289.2 502.0,285.8 503.7,284.2 505.3,283.3 507.0,282.5 508.7,283.3 510.0,285.8 511.7,289.2 513.3,291.7 514.7,293.3 515.8,294.2 517.0,296.7 518.0,305.0 518.7,313.3 519.7,317.5 520.8,318.0 522.0,315.8 523.3,312.5 525.0,307.7 526.5,304.8 527.5,308.7 528.5,313.7 529.7,320.0 530.8,326.7 532.0,336.7 533.0,343.3 533.5,350.0 534.2,354.2 535.3,348.3 536.2,340.0 536.9,330.0 537.4,323.0 537.9,316.7 538.7,308.7 539.4,300.8 539.9,295.3 541.4,292.9 542.9,289.9 543.8,292.4 544.8,294.3 546.3,296.3 547.6,298.3 549.3,300.3 549.8,305.8 550.3,312.7 550.8,314.7 551.6,309.7 552.6,305.8 553.3,304.3 554.3,305.8 555.3,303.8 556.3,299.8 557.0,296.8 557.7,293.8 558.7,290.4 559.5,289.4" fill="none" stroke="#6661d2" stroke-width="1.0" stroke-linejoin="round"/>
</svg></body></html>
